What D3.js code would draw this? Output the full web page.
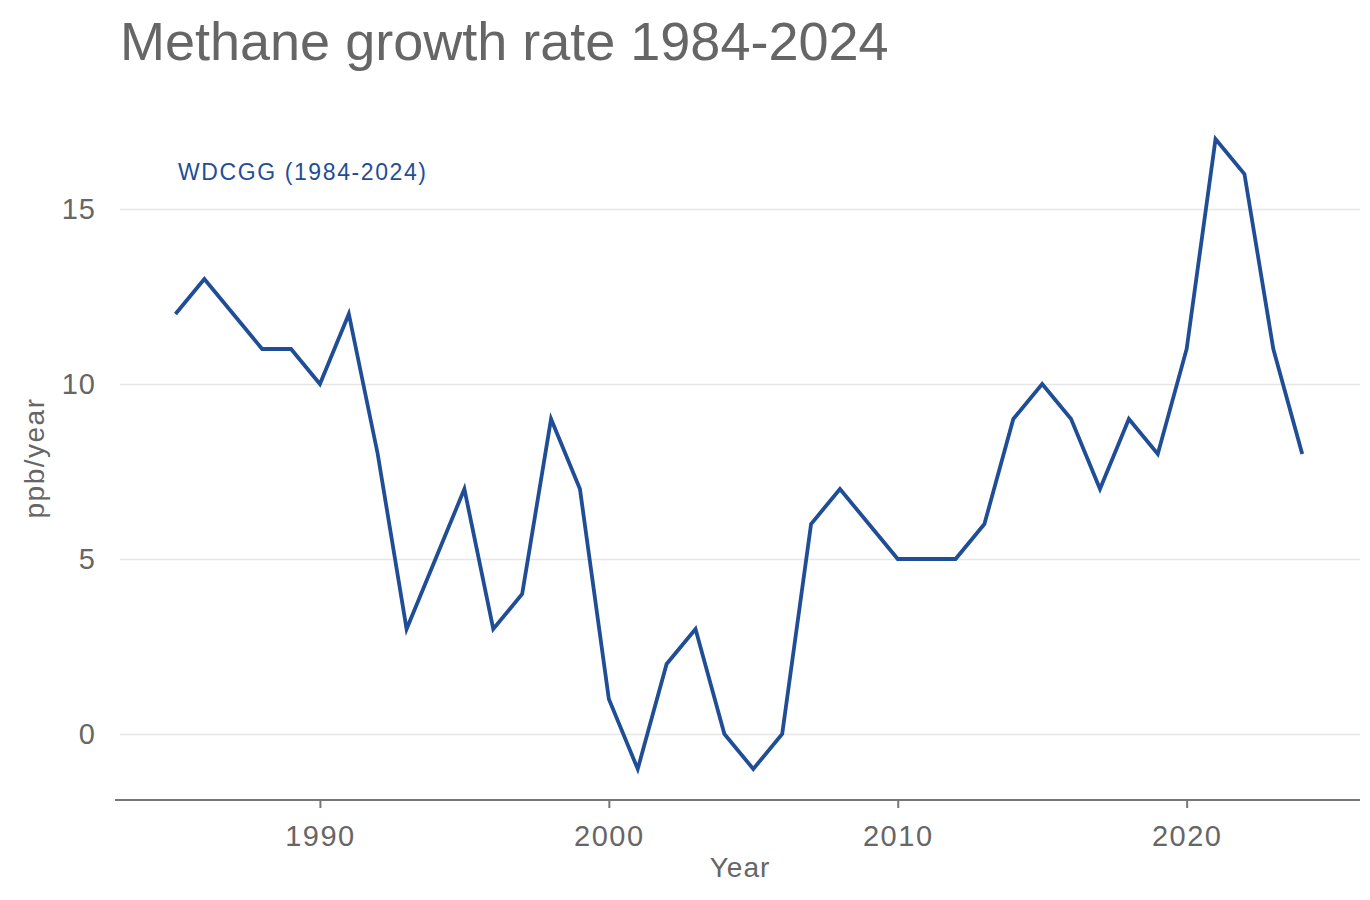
<!DOCTYPE html>
<html>
<head>
<meta charset="utf-8">
<script src="https://cdn.jsdelivr.net/npm/d3@7"></script>
<style>
  body { margin: 0; background: #fff; }
  text { font-family: "Liberation Sans", sans-serif; }
</style>
</head>
<body>
<div id="chart-area"></div>
<script>
// data
const years = d3.range(1985, 2025);
const growth = [12, 13, 12, 11, 11, 10, 12, 8, 3, 5,
                7, 3, 4, 9, 7, 1, -1, 2, 3, 0,
                -1, 0, 6, 7, 6, 5, 5, 5, 6, 9,
                10, 9, 7, 9, 8, 11, 17, 16, 11, 8];
const yTicks = [0, 5, 10, 15];
const xTicks = [1990, 2000, 2010, 2020];
const seriesName = "WDCGG (1984-2024)";

const W = 1370, H = 900;
const plot = {LEFT: 120, RIGHT: 1360, TOP: 100, BOTTOM: 800};
const grey = "#666666", blue = "#1f4e96";

let svg = d3.select("#chart-area").append("svg")
            .attr("width", W)
            .attr("height", H);

let x = d3.scaleLinear().domain([1983.08, 2026]).range([plot.LEFT, plot.RIGHT]);
let y = d3.scaleLinear().domain([-1.886, 18.114]).range([plot.BOTTOM, plot.TOP]);

// title
svg.append("text")
   .attr("x", 120).attr("y", 60)
   .attr("font-size", "54px")
   .attr("fill", grey)
   .text("Methane growth rate 1984-2024");

// gridlines + y labels
let yAxis = svg.append("g")
   .attr("transform", `translate(${plot.LEFT},0)`)
   .call(d3.axisLeft(y).tickValues(yTicks).tickSize(-(plot.RIGHT - plot.LEFT)).tickPadding(24));
yAxis.select(".domain").remove();
yAxis.selectAll("line").attr("stroke", "#e6e6e6").attr("stroke-width", 1.5);
yAxis.selectAll("text")
     .attr("font-size", "29px")
     .attr("letter-spacing", "1px")
     .attr("fill", grey)
     .attr("font-family", "Liberation Sans, sans-serif");

// x axis
let xAxis = svg.append("g")
   .attr("transform", `translate(0,${plot.BOTTOM})`)
   .call(d3.axisBottom(x).tickValues(xTicks).tickFormat(d3.format("d")).tickSize(8).tickSizeOuter(0).tickPadding(17));
xAxis.select(".domain").attr("stroke", "#777").attr("stroke-width", 2)
     .attr("d", `M115,0H${plot.RIGHT}`);
xAxis.selectAll("line").attr("stroke", "#777").attr("stroke-width", 2).attr("y1", 0);
xAxis.selectAll("text")
     .attr("font-size", "29px")
     .attr("letter-spacing", "1.5px")
     .attr("fill", grey)
     .attr("font-family", "Liberation Sans, sans-serif");

// axis titles
svg.append("text")
   .attr("x", 740).attr("y", 877)
   .attr("text-anchor", "middle")
   .attr("font-size", "28px")
   .attr("letter-spacing", "1px")
   .attr("fill", grey)
   .text("Year");
svg.append("text")
   .attr("transform", "translate(44,458) rotate(-90)")
   .attr("text-anchor", "middle")
   .attr("font-size", "28px")
   .attr("letter-spacing", "1.5px")
   .attr("fill", grey)
   .text("ppb/year");

// the line
let line = d3.line()
             .x((d, i) => x(years[i]))
             .y(d => y(d));
svg.append("path")
   .datum(growth)
   .attr("d", line)
   .attr("fill", "none")
   .attr("stroke", blue)
   .attr("stroke-width", 3.8)
   .attr("stroke-linejoin", "miter");

// series label
svg.append("text")
   .attr("x", 178).attr("y", 180)
   .attr("font-size", "23px")
   .attr("letter-spacing", "1.6px")
   .attr("fill", blue)
   .text(seriesName);
</script>
</body>
</html>
